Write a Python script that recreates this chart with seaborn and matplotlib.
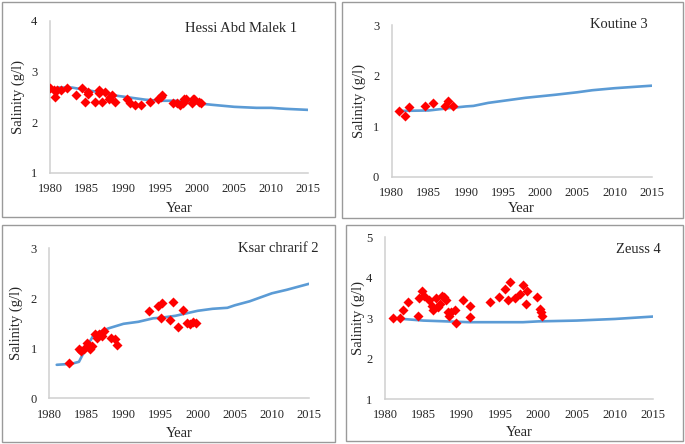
import matplotlib
matplotlib.use("Agg")
import matplotlib.pyplot as plt
from matplotlib.patches import Rectangle
import numpy as np
import pandas as pd
import seaborn as sns

# Hessi Abd Malek 1
hessi_obs_year = [1980.0, 1980.5, 1980.7, 1981.0, 1981.5, 1982.3, 1983.5, 1984.3, 1984.7,
                  1985.1, 1985.2, 1986.1, 1986.6, 1986.7, 1987.0, 1987.4, 1988.0, 1988.1,
                  1988.4, 1988.8, 1990.5, 1990.9, 1991.5, 1992.4, 1993.5, 1994.7, 1995.0,
                  1995.2, 1996.7, 1997.2, 1997.6, 1998.0, 1998.2, 1998.4, 1999.2, 1999.4,
                  1999.6, 2000.2, 2000.5]
hessi_obs_sal = [2.68, 2.63, 2.50, 2.63, 2.63, 2.68, 2.53, 2.68, 2.39,
                 2.55, 2.60, 2.39, 2.64, 2.57, 2.39, 2.60, 2.45, 2.50,
                 2.53, 2.39, 2.45, 2.37, 2.34, 2.34, 2.39, 2.45, 2.50,
                 2.53, 2.38, 2.37, 2.34, 2.37, 2.45, 2.45, 2.37, 2.45,
                 2.45, 2.40, 2.37]
hessi_sim_year = [1981, 1983, 1985, 1987, 1989, 1990, 1992, 1993, 1995, 1997, 1998,
                  2000, 2002, 2005, 2008, 2010, 2012, 2015]
hessi_sim_sal = [2.68, 2.68, 2.63, 2.58, 2.52, 2.50, 2.46, 2.44, 2.42, 2.42, 2.40,
                 2.37, 2.34, 2.30, 2.28, 2.28, 2.26, 2.24]

# Koutine 3
kout_obs_year = [1981.0, 1981.75, 1982.3, 1984.5, 1985.6, 1987.2, 1987.6, 1988.2]
kout_obs_sal = [1.30, 1.20, 1.38, 1.40, 1.45, 1.40, 1.50, 1.40]
kout_sim_year = [1981, 1985, 1988, 1990, 1991, 1993, 1995, 1998, 2000, 2002, 2005,
                 2007, 2010, 2012, 2015]
kout_sim_sal = [1.30, 1.31, 1.36, 1.39, 1.40, 1.46, 1.50, 1.56, 1.59, 1.62, 1.67,
                1.71, 1.75, 1.77, 1.80]

# Ksar chrarif 2
ksar_obs_year = [1982.6, 1984.0, 1984.3, 1984.7, 1985.1, 1985.5, 1985.8, 1986.1, 1986.4,
                 1986.7, 1987.1, 1987.4, 1988.3, 1988.8, 1989.1, 1993.5, 1994.6, 1995.2,
                 1995.1, 1996.2, 1996.7, 1997.3, 1998.0, 1998.6, 1998.9, 1999.3, 1999.8]
ksar_obs_sal = [0.70, 0.99, 0.95, 0.99, 1.10, 0.98, 1.05, 1.29, 1.20,
                1.29, 1.25, 1.35, 1.20, 1.19, 1.06, 1.75, 1.84, 1.91,
                1.61, 1.57, 1.92, 1.43, 1.76, 1.50, 1.49, 1.53, 1.50]
ksar_sim_year = [1981, 1983, 1984, 1985, 1986, 1987, 1988, 1990, 1992, 1994, 1995,
                 1997, 2000, 2002, 2004, 2005, 2007, 2010, 2012, 2015]
ksar_sim_sal = [0.67, 0.69, 0.73, 1.02, 1.27, 1.34, 1.40, 1.49, 1.53, 1.60, 1.61,
                1.65, 1.75, 1.79, 1.81, 1.86, 1.94, 2.10, 2.17, 2.29]

# Zeuss 4
zeuss_obs_year = [1981.0, 1981.9, 1982.3, 1983.0, 1984.3, 1984.5, 1984.8, 1985.1, 1985.8,
                  1986.1, 1986.3, 1986.6, 1986.9, 1987.2, 1987.5, 1987.7, 1988.0, 1988.2,
                  1988.3, 1988.6, 1989.1, 1989.3, 1990.2, 1991.1, 1991.1, 1993.7, 1994.9,
                  1995.6, 1996.0, 1996.3, 1997.0, 1997.6, 1998.0, 1998.4, 1998.5, 1999.8,
                  2000.2, 2000.3, 2000.5]
zeuss_obs_sal = [3.00, 3.00, 3.20, 3.39, 3.05, 3.49, 3.68, 3.55, 3.44,
                 3.30, 3.20, 3.49, 3.27, 3.35, 3.55, 3.52, 3.44, 3.16,
                 3.05, 3.16, 3.20, 2.89, 3.45, 3.30, 3.04, 3.41, 3.52,
                 3.72, 3.44, 3.89, 3.49, 3.59, 3.82, 3.34, 3.68, 3.52,
                 3.22, 3.14, 3.06]
zeuss_sim_year = [1981, 1983, 1985, 1988, 1991, 1995, 1998, 2000, 2005, 2010, 2015]
zeuss_sim_sal = [3.00, 2.97, 2.94, 2.92, 2.90, 2.90, 2.90, 2.92, 2.94, 2.98, 3.04]

titles = ["Hessi Abd Malek 1", "Koutine 3", "Ksar chrarif 2", "Zeuss 4"]
y_ranges = [(1, 4), (0, 3), (0, 3), (1, 5)]

sns.set_style("white")
plt.rcParams["font.family"] = ["Liberation Serif", "DejaVu Serif"]

W, H = 685, 444
fig = plt.figure(figsize=(W / 100, H / 100), dpi=100)


def px_axes(x0, x1, ytop, ybot):
    return fig.add_axes([x0 / W, 1 - ybot / H, (x1 - x0) / W, (ybot - ytop) / H])


def px_box(x0, x1, ytop, ybot):
    fig.patches.append(Rectangle((x0 / W, 1 - ybot / H), (x1 - x0) / W, (ybot - ytop) / H,
                                 transform=fig.transFigure, fill=False,
                                 edgecolor="#9a9a9a", linewidth=1.0))


# layout in pixels
boxes = [(2, 335, 2, 217), (342, 683, 2, 218), (2, 335, 225, 442), (346, 683, 225, 441)]
axes_px = [(50, 308, 20.7, 172.7), (391.7, 651.7, 25, 176.7),
           (49.3, 309, 248.3, 398.3), (385, 653.3, 237.3, 399)]
title_px = [(297, 29), (648, 25), (318, 248), (661, 249)]
ylabel_right_px = [25, 366, 23, 365]
xlabel_top_px = [202, 202.5, 426.5, 426]

data = [
    (hessi_obs_year, hessi_obs_sal, hessi_sim_year, hessi_sim_sal),
    (kout_obs_year, kout_obs_sal, kout_sim_year, kout_sim_sal),
    (ksar_obs_year, ksar_obs_sal, ksar_sim_year, ksar_sim_sal),
    (zeuss_obs_year, zeuss_obs_sal, zeuss_sim_year, zeuss_sim_sal),
]

for i, (oy, os_, sy, ss) in enumerate(data):
    px_box(*boxes[i])
    x0, x1, yt, yb = axes_px[i]
    ax = px_axes(x0, x1, yt, yb)
    sim = pd.DataFrame({"Year": sy, "Salinity": ss})
    obs = pd.DataFrame({"Year": oy, "Salinity": os_})
    sns.lineplot(data=sim, x="Year", y="Salinity", ax=ax, color="#5b9bd5",
                 linewidth=1.9, zorder=2)
    sns.scatterplot(data=obs, x="Year", y="Salinity", ax=ax, color="#ff0000",
                    marker="D", s=26, linewidth=0, zorder=3)

    ax.set_xlim(1980, 2015)
    ax.set_ylim(*y_ranges[i])
    ax.set_xticks(np.arange(1980, 2016, 5))
    ax.set_yticks(np.arange(y_ranges[i][0], y_ranges[i][1] + 1, 1))
    ax.patch.set_alpha(0)
    for side in ["top", "right"]:
        ax.spines[side].set_visible(False)
    for side in ["left", "bottom"]:
        ax.spines[side].set_color("#cfcfcf")
        ax.spines[side].set_linewidth(1.1)
    ax.tick_params(axis="y", direction="out", length=4, width=1, color="#cfcfcf",
                   labelsize=9, pad=5)
    ax.tick_params(axis="x", direction="inout", length=5, width=1, color="#cfcfcf",
                   labelsize=9, pad=5)
    ax.set_xlabel("Year", fontsize=10.5)
    ax.set_ylabel("Salinity (g/l)", fontsize=10.5)
    ax.yaxis.set_label_coords((ylabel_right_px[i] - x0) / (x1 - x0), 0.5)
    ax.xaxis.set_label_coords(0.5, -(xlabel_top_px[i] - yb) / (yb - yt))
    fig.text(title_px[i][0] / W, 1 - title_px[i][1] / H, titles[i], fontsize=10.5,
             ha="right", va="center")

fig.savefig("out.png", dpi=100)
